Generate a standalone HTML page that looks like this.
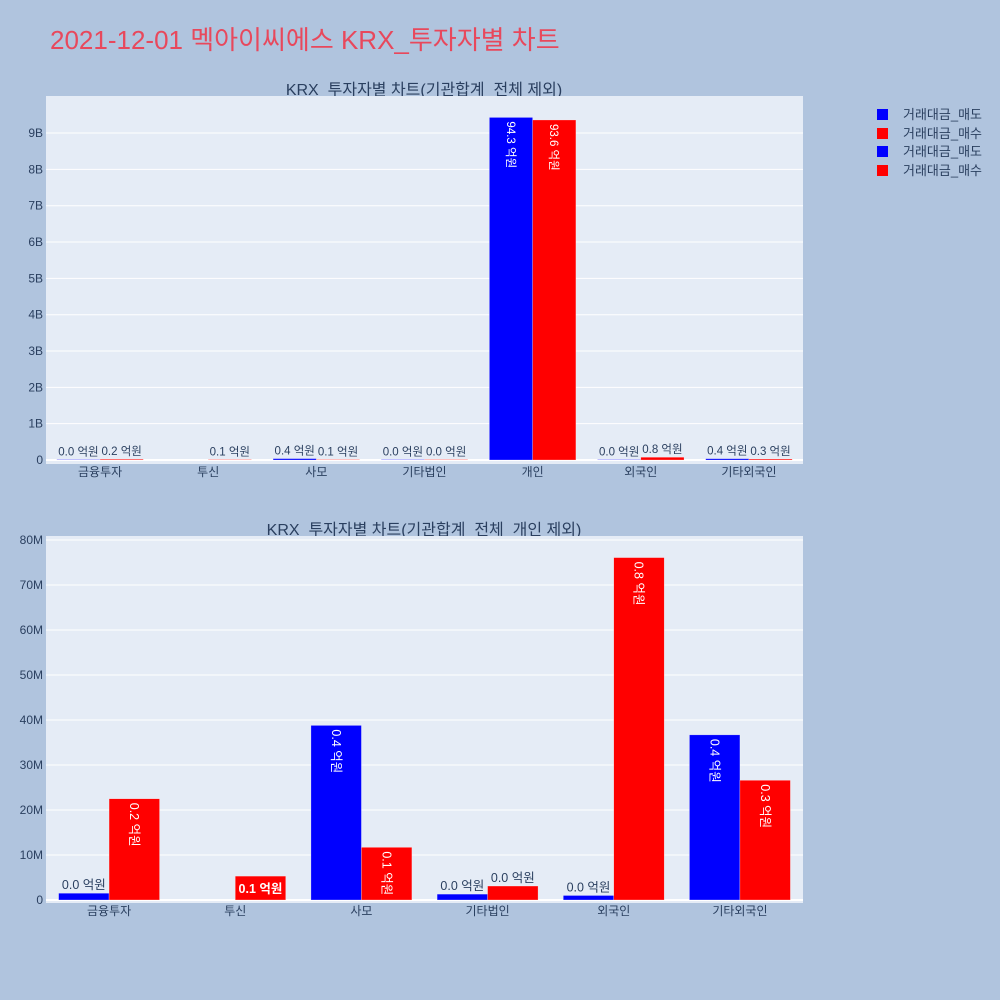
<!DOCTYPE html>
<html><head><meta charset="utf-8"><style>
html,body{margin:0;padding:0;background:#b0c4de;}
svg{display:block;font-family:"Liberation Sans","Noto Sans CJK KR",sans-serif;}
</style></head><body>
<svg id="chart" width="1000" height="1000" viewBox="0 0 1000 1000" xmlns="http://www.w3.org/2000/svg">
<rect width="1000" height="1000" fill="#b0c4de"/>
<text x="50" y="49" font-size="26" fill="#e8485c">2021-12-01 멕아이씨에스 KRX_투자자별 차트</text>
<text x="424" y="95" font-size="16" fill="#2a3f5f" text-anchor="middle">KRX_투자자별 차트(기관합계_전체 제외)</text>
<text x="424" y="535" font-size="16" fill="#2a3f5f" text-anchor="middle">KRX_투자자별 차트(기관합계_전체_개인 제외)</text>
<g id="legend">
<rect x="877" y="109" width="11" height="11" fill="#0000ff"/>
<text x="903" y="119" font-size="13" fill="#2a3f5f">거래대금_매도</text>
<rect x="877" y="128" width="11" height="11" fill="#ff0000"/>
<text x="903" y="138" font-size="13" fill="#2a3f5f">거래대금_매수</text>
<rect x="877" y="146" width="11" height="11" fill="#0000ff"/>
<text x="903" y="156" font-size="13" fill="#2a3f5f">거래대금_매도</text>
<rect x="877" y="165" width="11" height="11" fill="#ff0000"/>
<text x="903" y="175" font-size="13" fill="#2a3f5f">거래대금_매수</text>
</g>
</svg>
<script>
const topCategories = ["금융투자","투신","사모","기타법인","개인","외국인","기타외국인"];
const topSell = [1.5e6, null, 38.8e6, 1.3e6, 9.43e9, 1.0e6, 36.7e6];
const topBuy = [22.5e6, 5.3e6, 11.7e6, 3.1e6, 9.36e9, 76.1e6, 26.6e6];
const topTicks = [0,1e9,2e9,3e9,4e9,5e9,6e9,7e9,8e9,9e9];
const topTickLabels = ["0","1B","2B","3B","4B","5B","6B","7B","8B","9B"];
const botCategories = ["금융투자","투신","사모","기타법인","외국인","기타외국인"];
const botSell = [1.5e6, null, 38.8e6, 1.3e6, 1.0e6, 36.7e6];
const botBuy = [22.5e6, 5.3e6, 11.7e6, 3.1e6, 76.1e6, 26.6e6];
const botTicks = [0,10e6,20e6,30e6,40e6,50e6,60e6,70e6,80e6];
const botTickLabels = ["0","10M","20M","30M","40M","50M","60M","70M","80M"];

const NS="http://www.w3.org/2000/svg";
const svg=document.getElementById('chart');
function mk(tag,attrs,parent){const e=document.createElementNS(NS,tag);for(const k in attrs)e.setAttribute(k,attrs[k]);(parent||svg).appendChild(e);return e;}
function fmt(v){return (v/1e8).toFixed(1)+" 억원";}

function drawChart(prefix,cats,sell,buy,ticks,tickLabels,px,py,pw,ph,vmin,vmax,fs){
  const g=mk('g',{});
  
  
  const bg=mk('rect',{x:px,y:py,width:pw,height:ph,fill:'#e5ecf6'},g);
  
  
  const yS=v=>py+ph-(v-vmin)/(vmax-vmin)*ph;
  const band=pw/cats.length;
  const xC=i=>px+band*(i+0.5);
  ticks.forEach((t,i)=>{
    const y=yS(t);
    const gl=mk('line',{x1:px,x2:px+pw,y1:y,y2:y,stroke:'#fff','stroke-width':t===0?2:1},g);
    
    
    const tl=mk('text',{x:px-3,y:y+4,'font-size':12,fill:'#2a3f5f','text-anchor':'end'},g);
    
    
    tl.textContent=tickLabels[i];
  });
  const bw=band*0.8/2;
  cats.forEach((c,i)=>{
    const xl=mk('text',{x:xC(i),y:py+ph+12,'font-size':12,fill:'#2a3f5f','text-anchor':'middle'},g);
    
    
    xl.textContent=c;
    [[sell,'#0000ff',-1,'sell'],[buy,'#ff0000',0,'buy']].forEach(([arr,col,off,nm])=>{
      const v=arr[i]; if(v===null) return;
      const x=xC(i)+off*bw;
      const y0=yS(0), y1=yS(v), h=Math.max(y0-y1,0.5);
      const r=mk('rect',{x:x,y:y0-h,width:bw,height:h,fill:col,stroke:'rgba(255,255,255,0.5)','stroke-width':0.5},g);
      
      
      const label=fmt(v);
      const tw=label.length*fs*0.55;
      let t;
      if(h>40){
        const s=Math.min(1,(h-8)/tw);
        const f=fs*s;
        t=mk('text',{x:0,y:0,'font-size':f,fill:'#fff',transform:`translate(${x+bw/2-f*0.35},${y0-h+4}) rotate(90)`},g);
      }else if(h>=20&&bw>=tw){
        t=mk('text',{x:x+bw/2,y:y0-h/2+5,'font-size':fs,fill:'#fff','font-weight':'bold','text-anchor':'middle'},g);
      }else{
        t=mk('text',{x:x+bw/2,y:y0-h-4,'font-size':fs,fill:'#2a3f5f','text-anchor':'middle'},g);
      }
      
      
      t.textContent=label;
    });
  });
}
drawChart('top',topCategories,topSell,topBuy,topTicks,topTickLabels,46,96,757,368,-0.11e9,10.02e9,11.5);
drawChart('bottom',botCategories,botSell,botBuy,botTicks,botTickLabels,46,536,757,367,-0.67e6,80.9e6,12.5);
</script>
</body></html>
